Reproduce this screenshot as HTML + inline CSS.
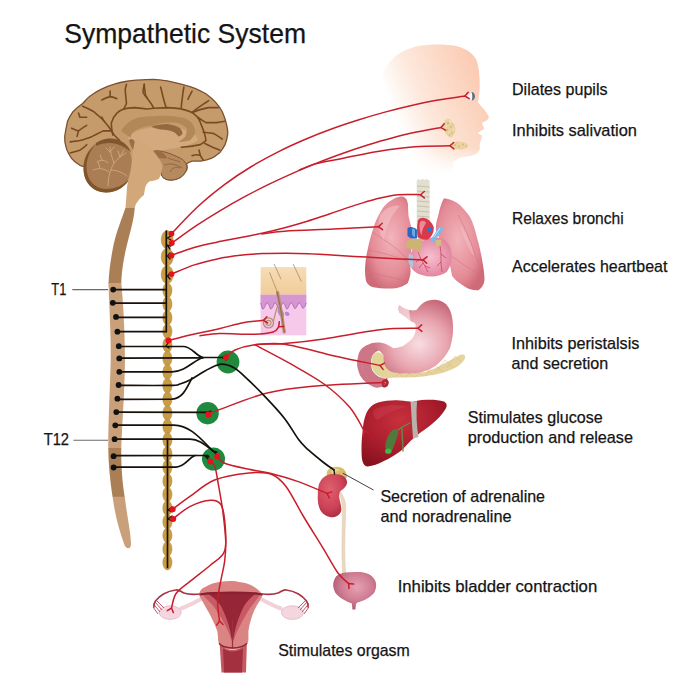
<!DOCTYPE html>
<html><head><meta charset="utf-8">
<style>
html,body{margin:0;padding:0;background:#fff;width:692px;height:692px;overflow:hidden}
svg{display:block}
text{font-family:"Liberation Sans",sans-serif;fill:#141414;stroke:#141414;stroke-width:0.25}
</style></head><body>
<svg width="692" height="692" viewBox="0 0 692 692">
<defs>
<linearGradient id="face" x1="385" y1="120" x2="482" y2="80" gradientUnits="userSpaceOnUse">
<stop offset="0" stop-color="#fff"/><stop offset="0.1" stop-color="#fff"/><stop offset="0.4" stop-color="#fde8dc"/><stop offset="1" stop-color="#fbcbb2"/>
</linearGradient>
<linearGradient id="faceFade" x1="0" y1="148" x2="0" y2="174" gradientUnits="userSpaceOnUse">
<stop offset="0" stop-color="#fff" stop-opacity="1"/><stop offset="1" stop-color="#fff" stop-opacity="0"/>
</linearGradient>
<mask id="faceMask"><rect x="370" y="30" width="130" height="150" fill="url(#faceFade)"/></mask>
<radialGradient id="lungL" cx="0.55" cy="0.45" r="0.6">
<stop offset="0" stop-color="#f2b4bb"/><stop offset="0.7" stop-color="#e48c97"/><stop offset="1" stop-color="#cf6a78"/>
</radialGradient>
<radialGradient id="lungR" cx="0.45" cy="0.45" r="0.6">
<stop offset="0" stop-color="#f2b4bb"/><stop offset="0.7" stop-color="#e48c97"/><stop offset="1" stop-color="#cf6a78"/>
</radialGradient>
<radialGradient id="heart" cx="0.5" cy="0.5" r="0.6">
<stop offset="0" stop-color="#f6c0d0"/><stop offset="1" stop-color="#e07c98"/>
</radialGradient>
<radialGradient id="stom" cx="0.58" cy="0.6" r="0.62">
<stop offset="0" stop-color="#f8dde2"/><stop offset="0.55" stop-color="#e8a6b0"/><stop offset="1" stop-color="#c86878"/>
</radialGradient>
<radialGradient id="liver" cx="0.45" cy="0.3" r="0.75">
<stop offset="0" stop-color="#c8303e"/><stop offset="0.6" stop-color="#a81c2c"/><stop offset="1" stop-color="#86121e"/>
</radialGradient>
<radialGradient id="kid" cx="0.4" cy="0.35" r="0.65">
<stop offset="0" stop-color="#de6270"/><stop offset="0.7" stop-color="#cc4256"/><stop offset="1" stop-color="#b02e44"/>
</radialGradient>
<radialGradient id="blad" cx="0.55" cy="0.4" r="0.6">
<stop offset="0" stop-color="#e4a2b2"/><stop offset="0.6" stop-color="#cf7c92"/><stop offset="1" stop-color="#b05a72"/>
</radialGradient>
<radialGradient id="cbl" cx="0.55" cy="0.4" r="0.6">
<stop offset="0" stop-color="#b88a60"/><stop offset="0.75" stop-color="#a87a50"/><stop offset="1" stop-color="#80562e"/>
</radialGradient>
<linearGradient id="skinTop" x1="0" y1="267" x2="0" y2="295" gradientUnits="userSpaceOnUse">
<stop offset="0" stop-color="#f6dcb8"/><stop offset="1" stop-color="#f0cc98"/>
</linearGradient>
<linearGradient id="skinBot" x1="0" y1="295" x2="0" y2="336" gradientUnits="userSpaceOnUse">
<stop offset="0" stop-color="#dca0d8"/><stop offset="0.3" stop-color="#f2c2e6"/><stop offset="1" stop-color="#f6cceb"/>
</linearGradient>
</defs>
<!-- FACE -->
<g mask="url(#faceMask)">
<path d="M383,75 C386,62 398,51 416,46.5 C430,43.8 446,44 456,46 C466,48.5 472,52.5 476,59 C479,66 480,78 479.7,88 C479.5,92 479.3,94 479.2,95 C478.8,98 478.3,100 478,102 C480,105 482.5,107.5 484.4,110 C486.5,112.5 488,115 489,117 C488.5,118.5 487.5,119.8 486.7,120.5 C485,121.5 483.5,122.2 482,122.8 C482.3,124 482.8,125.2 483.2,126.3 C483.8,127.2 484.2,128 484.4,128.6 C483.5,129.5 482,130.3 480.9,130.9 C479.5,131.8 478.2,132.6 477.4,133.2 C479,134 480.8,134.8 482,135.5 C481.8,137 481.3,138.7 480.9,140.2 C480.3,141.8 479.9,143.3 479.7,144.8 C479.8,146.4 479.8,148 479.7,149.4 C478.8,151 477.6,152.6 476.3,154 C474,155.2 471.5,155.9 469.3,156.3 C462,157 456,159 453,162 L452.5,182 L383,182 Z" fill="url(#face)"/>
</g>
<!-- eye -->
<path d="M466.5,96.5 L471.8,92 L472.5,100.5 Z" fill="#f4f6f8"/>
<path d="M471.5,92 C473.5,91.5 475,94 475,96.3 C475,98.8 473.5,100.8 471.8,100.4 C472.6,97.6 472.6,94.8 471.5,92 Z" fill="#5a7088"/>
<!-- parotid -->
<path d="M447.5,118.5 C450,118 451,121 453,123 C455,125 456,128 455.4,131 C455,134 453,137 450.5,137.8 C448,137 446,134 444.5,132 C443,129.5 442.7,126 443.5,123.5 C444.5,121 446,119 447.5,118.5 Z" fill="#ead3a0"/>
<g fill="#d2b476" opacity="0.8">
<circle cx="448" cy="123" r="1.2"/><circle cx="451" cy="127" r="1.1"/><circle cx="447" cy="130" r="1.2"/><circle cx="452" cy="133" r="1"/><circle cx="449.5" cy="135" r="0.9"/><circle cx="453" cy="124.5" r="0.8"/>
</g>
<g fill="#f6ead0" opacity="0.9">
<circle cx="450" cy="121.5" r="0.9"/><circle cx="446" cy="126.5" r="0.8"/><circle cx="453.5" cy="129.5" r="0.8"/><circle cx="449" cy="132.5" r="0.7"/>
</g>
<!-- submandibular -->
<path d="M452.5,143 C455,141.5 458,141.3 461,141.8 C464,142 467,143 468.2,145 C468,147.5 465,149 462,149.4 C458.5,149.6 455,149.2 452.5,148 C451.5,146.5 451.5,144.5 452.5,143 Z" fill="#ead3a0"/>
<g fill="#d2b476" opacity="0.8">
<circle cx="455" cy="145" r="1"/><circle cx="459" cy="146.5" r="1"/><circle cx="463" cy="144.5" r="1"/><circle cx="466" cy="146" r="0.8"/><circle cx="457" cy="143" r="0.7"/>
</g>
<!-- TRACHEA -->
<path d="M416.7,180.5 L418.5,179 L420.5,180.3 L422.5,178.8 L424.5,180.3 L426.5,178.8 L428.5,180.3 L429.6,180.5 L429.6,228 L416.7,228 Z" fill="#e2dfd0"/>
<g stroke="#c4bea8" stroke-width="0.9">
<line x1="417" y1="186" x2="429.6" y2="187"/><line x1="417" y1="191" x2="429.6" y2="192"/><line x1="417" y1="196" x2="429.6" y2="197"/><line x1="417" y1="201" x2="429.6" y2="202"/><line x1="417" y1="206" x2="429.6" y2="207"/><line x1="417" y1="211" x2="429.6" y2="212"/><line x1="417" y1="216" x2="429.6" y2="217"/><line x1="417" y1="221" x2="429.6" y2="222"/>
</g>
<!-- LUNGS -->
<path d="M401.5,196.3 C397,197 394,198.5 391.4,200.3 C387,203 384,206 381.3,210.5 C378,216 375,222 373.2,228.7 C371,235 369.5,241 368.2,246.9 C366.5,254 365.5,260 365.1,267.1 C364.8,272 365.2,277 366.1,281.3 C368,285 370,286.5 373.2,287.3 C380,288.5 388,288.8 395.5,288.3 C400,287.5 404,286 407.6,283.3 C409.5,279 410.5,275 410.6,271.2 C410.5,267 410,264 409.6,261 C410.5,254 412,247 412.7,240.8 C412.5,236 412,232 411.6,228.7 C410.5,224 409.5,220 408.6,216.5 C408.2,212 408,208 408,204.4 C407.5,201 406.5,199 405.6,198.3 C404,197 403,196.5 401.5,196.3 Z" fill="url(#lungL)"/>
<path d="M444,198.2 C451,199 456,201.5 460.2,205.2 C464,209 467.5,213 470.3,217.4 C473,223 475,229 476.4,235.6 C479,244 481,253 482.5,261.9 C483.5,268 484.5,274 484.5,280.1 C484,285 481.5,288.5 478.4,290.2 C473,290.5 468,289 464.2,286.2 C459,283 455,280 452.1,276 L448,255 C444,247 440,240 436,231 C435.5,226 436.5,221 438,216.5 C439.5,210 441,203 444,198.2 Z" fill="url(#lungR)"/>
<g fill="none" stroke="#d07280" stroke-width="0.8" opacity="0.7">
<path d="M368,250 C380,252 395,256 409,262"/>
<path d="M372,232 C385,240 400,250 410,262"/>
<path d="M366,272 C378,274 395,278 408,282"/>
<path d="M458,215 C466,228 472,246 478,262"/>
<path d="M450,255 C460,262 470,270 482,275"/>
</g>
<path d="M380,215 C386,208 394,204 400,206 C392,214 386,226 384,240 C380,236 377,224 380,215 Z" fill="#f6c8ce" opacity="0.5"/>
<path d="M460,225 C466,232 472,244 474,256 C470,252 464,240 460,225 Z" fill="#f6c8ce" opacity="0.45"/>
<!-- HEART -->
<path d="M407.5,228 C410,226 414,227 416.9,229.5 L417,238.5 C413,239 409,238 407.5,236 Z" fill="#2a68c0"/>
<path d="M412,229 C413,228 414.5,228.5 415,230 L415,237 C413.5,237 412.5,236 412,234 Z" fill="#7ab8e8" opacity="0.8"/>
<path d="M408.8,262 C409.5,255 412,249 416,245 C420,241.5 425,239 430,238 C434.5,237.3 438.5,237.5 442,238.5 C446,240.5 449,244 450.5,248 C451.5,252 451.8,256 451.5,259 C451,264 449.5,268 447,271.5 C443,275 437,276.5 431,276.5 C425,276.3 420,275 416,272.5 C412.5,270 409.8,266.5 408.8,262 Z" fill="url(#heart)"/>
<path d="M417.8,221 C418.5,218.5 421,217.5 423.5,217.8 C428,218.5 432,222 433.8,227.5 C434,232 432,236.5 428,239.4 C424,240.5 420,239.5 417.5,237 C416.8,232 416.9,226 417.8,221 Z" fill="#d83a4c"/>
<path d="M420,222 C422,220 425,220.5 426,223 C424,226 422,230 421.5,235 C419.5,232 419,226 420,222 Z" fill="#f0a0a8" opacity="0.8"/>
<path d="M426.5,229 C428,227 430.5,226.5 432.5,228 L431.5,232 C429.5,232.5 427.5,231.5 426.5,229 Z" fill="#2a78d0"/>
<path d="M441.3,226.5 C443,227 443.5,229 442.5,230.5 L433.5,242 C432,242.5 430.5,241.5 430.5,240 L438.5,228 C439.3,227 440.3,226.5 441.3,226.5 Z" fill="#78bdea"/>
<path d="M440,228 L434,237" stroke="#c4e2f6" stroke-width="1" />
<path d="M406.6,241 C410,239 416,238.3 422.5,239 L421,250.7 C416,250.5 411,249.5 407,248 C406,245.5 406,243 406.6,241 Z" fill="#cdb474"/>
<path d="M435.7,240 L441.3,239.4 L441,246 L436,246.5 Z" fill="#d4bc82"/>
<path d="M408.5,254.4 C410,254 412,254.5 413.1,255.5 L413.1,267.6 C411,267 409,265 408.5,262 Z" fill="#a8c8e0"/>
<g fill="none" stroke="#c02a3c" stroke-width="0.6">
<path d="M418,252 C420,258 424,264 428,272"/>
<path d="M421,258 L416,262 M423,263 L419,268 M425,266 L430,268"/>
<path d="M440,246 C442,254 440,262 442,272"/>
<path d="M441,254 L446,258 M441,262 L437,266"/>
</g>
<!-- SKIN -->
<rect x="260.6" y="267.1" width="45.7" height="27.8" fill="url(#skinTop)"/>
<rect x="260.6" y="294.7" width="45.7" height="40.6" fill="#f6c8ea"/>
<path d="M260.6,294.7 L306.3,294.7 L306.3,303 C305,306 304,309 302.5,308 C301,305 300,302 298.5,303 C297,306 296,309 294.5,308.5 C293,305 292,302 290.5,303 C289,306 288,309.5 286.5,309 C285,305 284,302 282.5,303 C281,306 280,309.5 278.5,309 C277,305 276,302 274.5,303 C273,306 272,309.5 270.5,309 C269,305 268,302 266.5,303 C265,306 264,309.5 262.5,309 C261.5,306 261,304 260.6,303 Z" fill="#d696d4"/>
<path d="M260.6,303 C261,304 261.5,306 262.5,309 C264,309.5 265,306 266.5,303 C268,302 269,305 270.5,309 C272,309.5 273,306 274.5,303 C276,302 277,305 278.5,309 C280,309.5 281,306 282.5,303 C284,302 285,305 286.5,309 C288,309.5 289,306 290.5,303 C292,302 293,305 294.5,308.5 C296,309 297,306 298.5,303 C300,302 301,305 302.5,308 C304,309 305,306 306.3,303" fill="none" stroke="#a868b0" stroke-width="0.9"/>
<path d="M277.6,309.4 C280,308 283,310 284,313 C285,316 283,318 281,317 C279,315 277,312 277.6,309.4 Z" fill="#b488d8"/>
<path d="M285,312 C288,311 290,313 289.5,315 C288,317 286,316 285,314 Z" fill="#b488d8"/>
<g fill="none" stroke="#a87c58" stroke-linecap="round">
<path d="M269.7,272.7 C272,279 275,286 277.6,292.5" stroke-width="0.7"/>
<path d="M274.2,264.3 L280.9,278.9" stroke-width="0.7"/>
<path d="M293.3,264.3 L301.2,281.2" stroke-width="0.7"/>
<path d="M277.6,292.5 C279,300 281,310 282.5,320 C283,325 284,330 284.3,332" stroke-width="3.2" stroke="#b89070"/>
<path d="M277,292 C279,300 281,310 282.5,320 C283,325 284,330 284.3,332" stroke-width="0.8" stroke="#8a6040"/>
<path d="M268.5,322.9 m-5,0 a5,5 0 1,0 10,0 a5,5 0 1,0 -10,0" stroke-width="1.4" stroke="#b89070"/>
<path d="M268.5,322.9 m-2.5,0 a2.5,2.5 0 1,0 5,0 a2.5,2.5 0 1,0 -5,0" stroke-width="1.1" stroke="#b89070"/>
<path d="M273.5,321 C275,315 276,310 277.6,306" stroke-width="1.2" stroke="#b89070"/>
</g>
<!-- STOMACH -->
<path d="M372,343 C368,344.5 364.5,346 362.1,348.2 C359.5,351 358.5,353.5 358.1,356.3 C357.3,359.5 357,362.5 357.1,365.4 C357.8,369 358.8,372.5 360.1,375.5 C362,378.5 364.5,381.5 367.2,383.6 C370,385.5 373,387 376.3,387.7 C378.5,387.8 381,387.5 383.4,386.6 C385,385.5 386.5,384 387.4,382.6 L385.4,378.6 C383,378 380.5,377.5 378.3,376.5 C376,375 374,373 372.3,370.5 C371.2,367 370.8,363.5 371.2,360.3 C371.5,358 372.3,356 373.3,354.3 C375,352 378,350.5 381,350 Z" fill="#cd7688"/>
<path d="M361,356 C361,366 364,376 372,382 C366,378 362,370 361,356 Z" fill="#e8a8b8" opacity="0.6"/>
<!-- PANCREAS -->
<path d="M373.3,354.3 C376,351.5 380,351 383.4,355.3 C384,360 385.5,366 390.5,371.5 C400,374 412,374 425,372 C438,368 450,360 458,356 C463,353.5 466,354.5 465,358 C463,364 455,369 444,372.5 C430,376.5 415,378 400,377.5 C393,377.5 389,378 385.4,378.6 C381,377.5 376,375 373.5,371.5 C371,366 371,359 373.3,354.3 Z" fill="#e6d29c"/>
<path d="M374,356 C377,354 381,355 382,359 C383,365 384,370 386,376 C381,376 376,373 374,369 C372,365 372.5,359 374,356 Z" fill="#dcd696" opacity="0.8"/>
<g fill="none" stroke="#cdb57a" stroke-width="0.5" opacity="0.85">
<path d="M395,370 L403,377 M405,370 L413,377 M415,369 L423,376 M425,368 L433,375 M435,365 L443,372 M445,360 L453,368 M455,356 L461,362"/>
<path d="M395,377 L403,370 M405,377 L413,370 M415,377 L423,368 M425,376 L433,365 M435,373 L445,360 M447,368 L455,356"/>
</g>
<path d="M399.5,305.3 C403,308 406,310 408.9,310 C412,310.5 414,310.5 416.4,310 C419,307 421,304 423.9,302.5 C427,300.5 431,299.5 435.2,299.7 C440,300 443.5,302 446.4,304.4 C450,308.5 451.5,313 452.1,317.5 C453,322 453.2,327 453,332.6 C452.5,338 451.5,343 450.2,347.6 C448,352 446,355.5 442.7,358.9 C439.5,362.5 435.5,366 431.4,368.3 C427.5,370.3 424,371.8 420,372.5 C417,373.2 414,373.5 410.7,373.5 C407,373.6 404,373.6 400.6,373.5 C397,373 393.5,372.5 390.5,371.5 C387.5,369.5 385.5,367 384.4,364.4 C383.6,361 383.4,358 383.4,355.3 C381.5,352 378,349.5 374,347 C372.5,345.5 372,344.5 372,343 C375,342.5 378,342.3 380.3,342.6 C383,343.3 386,344 388.4,345.2 C390,346.2 391.8,347.3 393.5,348.2 C396.5,348 399.5,347.3 402.6,346.2 C406.5,344 410,341 412.7,338.1 C414.5,335.5 415.5,332.5 415.7,330 C415.8,327 415.5,325 415.4,324 C414,322.5 412.5,322 410.8,321.3 C407,318 403,315 399.5,312.8 C398,310.5 398,307 399.5,305.3 Z" fill="url(#stom)"/>
<path d="M399.5,305.3 C403,308 406,310 408.9,310 L410.8,321.3 C407,318 403,315 399.5,312.8 C398,310.5 398,307 399.5,305.3 Z" fill="#f6e4e6" opacity="0.7"/>
<path d="M383,380 C385.5,378.5 388.5,379.5 388.8,382.5 C388.8,385.5 386,387.8 383.5,387.5 C381.5,386.5 381,382 383,380 Z" fill="#a02c3c"/>
<path d="M384.5,381.5 C386,381.5 386.5,383 386,384.5 C385,385.5 383.5,385 383.5,383.5 Z" fill="#e07c8c"/>
<!-- LIVER -->
<path d="M366,414 C369,407 373,404 378,402.5 C386,400.5 394,400 400,400.6 C405,401 409,401.5 412.5,402 C416,401 420,400 426,399.8 C433,399.5 439,400 444,401.5 C447,403 447.5,406 445.5,409 C442,415 437,420 432,424 C427,428 424,430 421.5,431.8 C417,435.5 414,438 411,440.5 C407,445 404,448 400.7,450.9 C395,455 389,458.5 383.4,461.3 C378,464 373,466 367.7,466.5 C364,466.5 362,462 361.7,456 C361.3,448 361.5,440 362.5,432 C363,425 364,419 366,414 Z" fill="url(#liver)"/>
<path d="M374,410 C384,404 400,404 408,407 C400,408 386,412 378,420 C374,418 372,414 374,410 Z" fill="#d04858" opacity="0.35"/>
<path d="M410.5,401.8 L417,401.2 C416,414 416.5,426 418.5,437 L413,438.5 C412,426 411.5,414 410.5,401.8 Z" fill="#b8b2ac"/>
<g fill="none" stroke="#6c8a48" stroke-width="1.3" stroke-linecap="round">
<path d="M395,432 C400,428 405,425 410,423"/>
<path d="M402,428 C402,436 403,444 403,451"/>
</g>
<path d="M386.5,452 C384,446 386,438 390,433 C393,429 396,428 398,430 C399,434 396,440 394,446 C392.5,451 390,454 386.5,452 Z" fill="#4e7a3c"/>
<ellipse cx="388.3" cy="451.2" rx="3.2" ry="2.6" fill="#3cb843"/>
<!-- KIDNEY + ADRENAL -->
<path d="M327.5,470.5 C331,466.5 337,465.8 342,468 C345.5,470 347,474 346.7,477.9 L327,478 C326.5,475.5 326.5,472.5 327.5,470.5 Z" fill="#d9bc6c"/>
<path d="M331,469.5 C334,468 338,468.3 340,470.5 C337,471 334,472 332,474 Z" fill="#f0dca0" opacity="0.8"/>
<path d="M340,491 C343,496 345.5,500 345.7,506 C345.5,520 344.5,540 344.8,556 C345,564 345.5,569 345.5,574 L342.5,574 C342.5,566 342,560 342,552 C342,536 342.5,518 342.2,506 C341.8,500 340.5,496 338,492 Z" fill="#ead8c0" stroke="#d8c4a8" stroke-width="0.5"/>
<path d="M318.5,486 C320,480 324,476 329,474.5 C334,473.5 340,474 344,476.5 C346.5,478.5 347.3,481 347,483.5 C346,486.5 343.5,489 340.5,491 C339,493 338.8,496 339.5,499 C340.5,503 341.5,507 341.3,510.5 C340.5,514 337.5,516.8 333,517.3 C328,517.5 323.5,515 320.5,510.5 C318,506 317.5,500 317.8,495 C317.8,492 318,489 318.5,486 Z" fill="url(#kid)"/>
<line x1="342.9" y1="473.2" x2="373.5" y2="490" stroke="#2a2a2a" stroke-width="0.9"/>
<!-- BLADDER -->
<path d="M345.3,572.6 C350,572 355,571.8 360.5,572.1 C364.5,572.8 368,573.8 370.6,575.2 C374,577.5 376,581 376.1,584.3 C376.2,588 375.5,591 373.6,593.4 C371,596 368.5,598 365.5,599.4 C362.5,600.8 360,601.8 357.4,602.5 C356.5,603.2 356,603.8 355.9,604.5 L355.4,609.6 L352.4,609.6 L351.9,603.5 C349,602.2 346,601 343.3,599.4 C340,597.5 337,595 335.2,592.4 C333.8,589.5 333,587 333.2,584.3 C333.5,581 334.5,578.5 336.2,576.2 C339,574.2 342,573 345.3,572.6 Z" fill="url(#blad)"/>
<!-- UTERUS -->
<g fill="none" stroke="#f2d2d8" stroke-width="4" stroke-linecap="round">
<path d="M201,599 C194,603 188,606 181,608.5"/>
<path d="M261,599 C268,603 274,606 281,608.5"/>
</g>
<ellipse cx="170.2" cy="612.6" rx="11" ry="6.8" fill="#f3d6de" stroke="#e6b4c2" stroke-width="0.8"/>
<ellipse cx="292.4" cy="612.6" rx="11" ry="6.8" fill="#f3d6de" stroke="#e6b4c2" stroke-width="0.8"/>
<g fill="none" stroke="#a63444" stroke-width="1.7" stroke-linecap="round">
<path d="M200,594 C194,594.5 188,594.5 184,593 C180,591 178,589 175.7,590 C171,590.5 167,592 163.5,594 C160,596 157.5,598.5 155.5,601 C154,603 153.7,605 154,607"/>
<path d="M262,594 C268,594.5 274,594.5 278,593 C282,591 284,589 286.3,590 C291,590.5 295,592 298.5,594 C302,596 304.5,598.5 306.5,601 C308,603 308.3,605 308,607"/>
</g>
<g fill="none" stroke="#b8485a" stroke-width="0.9">
<path d="M153.5,604 L160,612 M155,602 L162,610 M157,601 L164,608 M153,607 L158,614"/>
<path d="M308.5,604 L302,612 M307,602 L300,610 M305,601 L298,608 M309,607 L304,614"/>
</g>
<path d="M199.1,594.7 C200,590 202,588.5 205.2,587.1 C210,584 215,582.5 220.4,581.8 C224,581.3 228,581 232.5,581.1 C237,581.5 241,582.3 246.2,583.3 C250,584.5 254,586.5 256.8,588.7 C259,590.5 261,592.5 262.9,594.7 C261.5,597 260.5,599 259.8,600.8 C257.5,604 255.5,608 253.8,611.4 C252.5,614.5 251.5,617.5 250.7,620.5 C249.5,624 249,627.5 248.4,631.2 C248.4,634 248.4,637 248.4,640.3 L247.7,643.3 C244,647 238,649.5 232.5,649.4 C227,649.5 222,647 218.8,643.3 L218.1,640.3 C218.1,637 217.8,634 217.3,631.2 C216,627.5 214.5,624 212.8,620.5 C211.5,617.5 210,614.5 208.2,611.4 C206,608 204,604 202.1,600.8 C201,599 200,597 199.1,594.7 Z" fill="#da8584"/>
<path d="M201,593.5 L261,593.5 C258,598 254,603 250,608 C245,616 240,625 236,634 C234.5,638 233.5,641 232.5,643 C231.5,640 230,636 228.5,632 C225,624 220,615 214,607 C210,602 205,597.5 201,593.5 Z" fill="#c85a66"/>
<path d="M206,592.5 L257.5,592.5 C252,596 247,601 243.5,607 C240,614 237,622 235,630 C234,635 233.2,639 232.5,642 C231.8,639 231,635 230,630 C228,622 225,614 221.5,607 C218,601 212,596 206,592.5 Z" fill="#962636"/>
<path d="M199.5,594.5 C215,592 248,592 262.5,594.5" fill="none" stroke="#8a2030" stroke-width="2.2"/>
<path d="M232.5,620 L232.5,648" stroke="#9a3040" stroke-width="1.2"/>
<path d="M219.6,643.3 C224,648 228,650 232.5,650 C237,650 242,648 246.9,643.3 L246,672.5 L221.5,672.5 Z" fill="#c45a64"/>
<path d="M223,648.5 C226,650.5 229,651.5 232.5,651.5 C236,651.5 239.5,650.5 243,648.5 L242,672.5 L224,672.5 Z" fill="#a2303e"/>
<path d="M219,643.3 C224,649.5 241,649.5 247,643.3" fill="none" stroke="#8e2636" stroke-width="1.4"/>
<!-- BRAIN -->
<g id="brain">
<path d="M86.7,166.6 C83,166.5 81.5,166 79.9,165.3 C76,163 73.5,161 71.6,158.4 C69,154.5 67,151 66.1,147.4 C65,143.5 64.5,140 64.7,136.4 C65.5,131 66.5,126 67.5,121.3 C69,118 71,114.5 73,111.7 C76,108.5 79,106 82.6,103.5 C85,101 87,98.5 89.5,96.6 C93,94 96.5,91.5 100.5,89.7 C105,87.5 109.5,85.5 114.2,84.2 C118,83 121.5,82 125.2,81.5 C129,80.8 132.5,80.3 136.2,80.1 C141,79.8 148,79.4 153.7,79.4 C158,79.8 163,80.2 167.4,80.8 C172,81.8 177,83 181.2,84.2 C186,85.5 190.5,86.8 194.9,88.3 C199,90 202.5,91.8 205.9,93.8 C209.5,96.5 212.5,99 215.5,102.1 C218,105 220.5,108.5 222.3,111.7 C224,115.5 225.5,120 226.4,124 C227.3,127.5 227.8,130.5 227.8,133.6 C227.3,137.5 226.5,141 225.1,144.6 C223.5,147.5 221.5,150.5 219.6,152.8 C217,155 214.5,157 211.3,158.3 C207.5,159.8 204,160.7 200.4,161.1 L192.1,161.1 C190,161.8 188,162.5 186.6,163.8 C187.5,167 187.2,170 186,171 C183,177 177,180 171,180 C165,180 161,177 161,172 L155,158 C150,160 145,165 140,170 L132,172 C120,169 100,167 86.7,166.6 Z" fill="#c69b6b" stroke="#7d5130" stroke-width="1.3" stroke-linejoin="round"/>
<!-- light centre -->
<path d="M128,138 C134,130 150,126 166,127 C184,128 196,132 198,140 C194,143.5 186,146 181.2,147.3 C170,149 162,150 155,152 C148,152 140,150 132,146 Z" fill="#d3aa7e"/>
<!-- corpus callosum band -->
<path d="M121,131 C126,122 134,118.5 140,117.2 C150,116 160,115.8 167.4,115.8 C175,116.2 181,117 185.3,118.5 C189.5,120.5 192.5,123 193.5,125.4 C195,128.5 195.2,131 194.9,133.6 C193.5,137 191.5,139 189.4,140.5 C186,141.5 182,142 178.4,141.9 C181,140 184,138.5 185.3,136.4 C186.6,133.5 187,131 186.6,128.1 C184,125.5 180,123.5 174.3,122.6 C166,122 158,123 153.7,125.4 C146,126 138,128 133,132 C131,134.5 130.5,136.5 131,138 Z" fill="#b28859"/>
<path d="M151,126.8 C156,124.8 162,124 167.4,124 C172.5,124.8 176.5,126 179.8,128.1 C181.5,130 182.5,132 182.5,133.6 C181.5,135.5 180,136.5 178.4,136.4 C177,134.5 175.5,133 174.3,132.2 C170,130.5 165.5,129.8 160.6,129.5 C157,128.8 153.5,128 151,126.8 Z" fill="#946840"/>
<!-- hanging temporal lobe -->
<path d="M155,151 C160,150 170,153 180,158 C186,161 188,166 186,171 C183,177 177,180 171,180 C165,180 161,177 161,172 C161,165 158,158 155,151 Z" fill="#b68a5f" stroke="#7d5130" stroke-width="0.9"/>
<path d="M152.3,151 C158,149.5 164,152 167.4,158.3 C162,159 156,158 153.7,156 Z" fill="#9c6c44"/>
<g fill="none" stroke="#8a5e38" stroke-width="0.8">
<path d="M164,165 C170,163 176,164 182,168"/>
<path d="M170,172 C172,168 176,166 180,168"/>
<path d="M168,158 C172,160 176,160 180,162"/>
</g>
<!-- sulci -->
<g fill="none" stroke="#7a4a22" stroke-width="1.6" stroke-linecap="round" stroke-linejoin="round">
<path d="M82.6,106.2 C87,108 90.5,109.5 93.6,111.7 C97,114.5 100.5,117 103.2,120 C105,122.5 107,124.5 108.7,126.8 C110.5,129.5 112.5,132.5 114.2,135 C116,137 118,139 119.7,140.5"/>
<path d="M101.8,117.2 L103.5,120.5"/>
<path d="M112.8,135 C112,131 111.2,126 111.4,122.7 C112.5,119 114.5,115.5 116.9,113.1 C119,111 121.5,109.8 123.8,109 C127,108 131,107.7 134.8,107.6 C139,108 143,108.4 147,109 L153.7,108.2 L167.4,107.6 C172,107.8 177,108.2 181.2,108.9 C185,109.8 189,111 192.1,112.4 C194,114 196,115.5 197.6,117.2 C198.8,119 199.8,120.8 200.4,122.6 C201.8,126 203.3,130 204.5,133.6 C205.2,136 205.8,138.5 205.9,140.5 C204,142 202.3,143.5 200.4,144.6 C194,146 187,147 181.2,147.3"/>
<path d="M123.8,109 C124.8,107 125.8,105 126.5,103.5 C126,99 125.5,94 125.2,89.7 C125.5,87.5 126,85.8 126.5,84.2"/>
<path d="M101.8,100 C104.5,98.5 107.5,97.2 110.1,96.6 C112.5,97 115,97.8 116.9,98.7"/>
<path d="M110.1,96.6 L110.1,91.1"/>
<path d="M144.4,84.2 C143.5,87 143,90 143,92.5 C144,94.5 145.5,96.5 147,98"/>
<path d="M78.5,113.1 C79,114.5 79.5,116 79.9,117.2 L86.7,117.2"/>
<path d="M71.6,128.2 C74,129.2 76.5,130.3 78.5,130.9 C81,129 84,127 86.7,125.4"/>
<path d="M78.5,130.9 L77.1,136.4"/>
<path d="M70.2,141.9 C73,141.5 76.5,141 79.9,140.5 C84,139.5 88,138 92.2,136.4 C96,134.5 100,132.5 103.2,130.9 L111.4,130.9"/>
<path d="M70.2,152.9 C73.5,152 77,151 79.9,150.2 C82.5,148.5 85,146.5 86.7,144.7"/>
<path d="M144.1,84.2 C144.5,88 145,92 145.5,95.2 C147,98 149,101 151,103.4 C152,105 153,106.5 153.7,108.2"/>
<path d="M160.6,87 C161.5,90.5 162.5,94.5 163.3,98 C164.2,101.5 165.2,104.5 166.1,107.6"/>
<path d="M183.9,87 C183.3,90 182.8,93.5 182.5,96.6 C182,100 181.5,104 181.2,107.6"/>
<path d="M192.1,91.1 C190.5,94 189,96.8 188,99.3"/>
<path d="M208.6,100.7 C205.5,102.5 203,104.5 200.4,106.2 C197,108.5 194.5,110.5 192.1,112.4"/>
<path d="M192.1,112.4 C197,110.5 203,108.5 208.6,107.6 L218.2,107.6"/>
<path d="M197.6,117.2 C200,119 203,121 205.9,122.6 C209.5,122.6 213,122.6 216.8,122.6 C219.5,122.2 222.5,121.7 225.1,121.3"/>
<path d="M203.1,132.2 C206.5,132.6 210.5,133 214.1,133.6 C217,135.5 220,137.3 222.3,139.1"/>
<path d="M204.5,143.2 C207,144.5 210,146 212.7,147.3 C215,148.3 217.5,149.2 219.6,150.1"/>
<path d="M199,150.1 C199.5,152 200,154 200.4,155.6 C201.2,157 202.2,158.5 203.1,159.7"/>
<path d="M192.1,155.6 C194.5,155 197.5,154 200.4,155.6"/>
</g>
<!-- cerebellum -->
<path d="M83.5,168 C83.5,152 95,139 110,138.5 C124,138.5 132,150 132,165 C132,181 121,192.5 106,192.5 C92,192 83.5,182 83.5,168 Z" fill="#aa7d54"/>
<path d="M83.5,168 C83.5,182 92,192 106,192.5 C118,192.5 126,186 130,178 C124,185 116,189 106,189 C94,188.5 87,180 86.5,168 C86.5,158 90,150 96,145 C88,150 83.5,158 83.5,168 Z" fill="#80552c"/>
<path d="M96,143 C102,139.5 106,138.5 110,138.5 C120,138.5 128,144 131,152 C124,146 116,143 110,143 C104,143 100,144 96,146 Z" fill="#6e4622" opacity="0.7"/>
<g fill="none" stroke="#d2a87c" stroke-width="0.9" stroke-linecap="round">
<path d="M108,186 C108,178 110,170 114,163"/>
<path d="M114,163 C118,158 122,155 126,153"/>
<path d="M114,163 C112,157 110,152 110,147"/>
<path d="M110,152 L106,148"/><path d="M110,152 L114,147"/>
<path d="M120,157 L118,151"/><path d="M120,157 L124,150"/>
<path d="M109,172 C104,168 98,168 93,170"/>
<path d="M100,168 L98,162"/>
<path d="M111,170 C116,170 122,172 127,176"/>
<path d="M97,162 C101,159 105,160 108,163"/>
<path d="M102,160 L100,155"/>
</g>
<!-- brainstem light -->
<path d="M134.7,140 C140,140 150,146 153.2,151 C157,156 161,160 162.4,166 C162.4,170 161,175 158.9,178.9 C155,180.5 151,181 149.7,181.2 C147,183 145.5,186 145.1,188.2 C144.5,192 144,194 143.9,195.1 C141,197.5 139,199.5 138.1,200.9 C136,203 135,205.5 134.7,208.5 L125.4,208.5 C126,202 126.5,195 127,187 C128,181 129,176 130,173.2 C131,168 132,162 132.3,156 C132.8,150 133.5,145 134.7,140 Z" fill="#d2a87a"/>
<path d="M129,140 C131,138 134,139 134.7,142 L133,150 C131.5,147 129.5,144 129,140 Z" fill="#9c6e46"/>
</g>
<!-- SPINAL CORD -->
<path d="M125.4,208 L134.7,208 C134,222 128,238 124.7,255 C122.5,266 121.5,276 121.3,283.5 L108.5,283.5 C109,270 111,258 113.5,245 C117,230 122,218 125.4,208 Z" fill="#ab7f56"/>
<path d="M108.5,283 L121.3,283 C123,300 125,330 125,360 C124.5,395 122,425 121.3,448.3 L108.3,448.3 C108,425 110,390 110.7,360 C111,330 109,305 108.5,283 Z" fill="#c9a07a"/>
<path d="M108.3,448 L121.3,448 C121,462 122,480 124.7,497 L112.6,497 C110,480 108.4,462 108.3,448 Z" fill="#ab7f56"/>
<path d="M112.6,496.8 L124.7,496.8 C127,515 131,535 131,544 C131,549.5 126.5,549.5 124.5,545 C119,530 115,515 112.6,496.8 Z" fill="#c9a07a"/>
<!-- SYMPATHETIC CHAIN -->
<g fill="#c89c44" stroke="#b08a3a" stroke-width="0.5">
<ellipse cx="167.2" cy="239.7" rx="6.0" ry="9.1"/><ellipse cx="167.2" cy="257.0" rx="6.0" ry="8.7"/><ellipse cx="167.2" cy="274.6" rx="6.0" ry="9.1"/><ellipse cx="167.4" cy="290.5" rx="4.6" ry="7.4"/><ellipse cx="167.4" cy="304.1" rx="4.6" ry="7.4"/><ellipse cx="167.4" cy="317.7" rx="4.6" ry="7.4"/><ellipse cx="167.4" cy="331.3" rx="4.6" ry="7.4"/><ellipse cx="167.4" cy="344.9" rx="4.6" ry="7.4"/><ellipse cx="167.4" cy="358.5" rx="4.6" ry="7.4"/><ellipse cx="167.4" cy="372.1" rx="4.6" ry="7.4"/><ellipse cx="167.4" cy="385.7" rx="4.6" ry="7.4"/><ellipse cx="167.4" cy="399.3" rx="4.6" ry="7.4"/><ellipse cx="167.4" cy="412.9" rx="4.6" ry="7.4"/><ellipse cx="167.4" cy="426.5" rx="4.6" ry="7.4"/><ellipse cx="167.4" cy="440.1" rx="4.6" ry="7.4"/><ellipse cx="167.4" cy="453.7" rx="4.6" ry="7.4"/><ellipse cx="167.4" cy="467.3" rx="4.6" ry="7.4"/><ellipse cx="167.4" cy="480.9" rx="4.6" ry="7.4"/><ellipse cx="167.4" cy="494.5" rx="4.6" ry="7.4"/><ellipse cx="167.4" cy="508.1" rx="4.6" ry="7.4"/><ellipse cx="167.4" cy="521.7" rx="4.6" ry="7.4"/><ellipse cx="167.4" cy="535.3" rx="4.6" ry="7.4"/><ellipse cx="167.4" cy="548.9" rx="4.6" ry="7.4"/><ellipse cx="167.4" cy="562.5" rx="4.6" ry="7.4"/>
</g>
<!-- GANGLIA -->
<g fill="#1f8a3e">
<circle cx="228" cy="362" r="11.4"/>
<circle cx="207.6" cy="413.2" r="11.2"/>
<circle cx="213.5" cy="459" r="11.5"/>
</g>
<!-- BLACK PREGANGLIONIC -->
<g fill="none" stroke="#17110c" stroke-width="1.7" stroke-linecap="round">
<path d="M166.3,231 L166.3,331.6"/>
<path d="M113.2,289.6 L166.3,289.6"/>
<path d="M112.8,303.2 L166.3,303.2"/>
<path d="M116,317.4 L166.3,317.4"/>
<path d="M117.4,331.6 L166.3,331.6"/>
<path d="M118.8,346.5 L184,346.5 C192,347 196,356 203,357.5 L222,357.5"/>
<path d="M119.3,358.1 L203,357.8"/>
<path d="M119.3,371.8 L172,371.8 C186,371.5 194,360 203,357.5"/>
<path d="M117.4,399.4 L172,399.2 C182,398.5 186,390 192,378"/>
<path d="M116.3,412.2 L206,412.4"/>
<path d="M115.3,425.1 L174,425.1 C190,425.5 200,438 213,451"/>
<path d="M114.7,439.2 L190,439.1 C200,439.5 206,446 213,451"/>
<path d="M113.6,455.7 L208,455.5"/>
<path d="M113.6,467.2 L176,467.1 C186,466 188,458 195,455.5"/>
<path d="M167.5,439.3 L167.5,567.4"/>
</g>
<g fill="none" stroke="#17110c" stroke-width="1.3" stroke-linecap="round">
<path d="M171,236 L167.5,238 L171,240"/>
<path d="M170.5,246 L167,245 L170,249"/>
<path d="M170,253 L167.5,256 L170,259"/>
<path d="M170,273 L167.5,276 L170,279"/>
<path d="M168,343 L166,346 L169,348"/>
<path d="M226,355 L222,357.5 L226,360"/>
<path d="M211,411 L206,412.5 L210,416"/>
<path d="M216,454 L213,451 L217,452"/>
<path d="M208,459 L205,456 L209,457"/>
<path d="M172,507 L168,510 L172,512"/>
<path d="M172,516 L168,519 L172,521"/>
<path d="M331,467.5 L334,470 L334.5,474"/>
</g>
<g fill="#111">
<circle cx="113.2" cy="289.6" r="2.9"/><circle cx="112.8" cy="302.8" r="2.9"/><circle cx="116" cy="316.9" r="2.9"/><circle cx="117.4" cy="331.7" r="2.9"/>
<circle cx="118.8" cy="346.2" r="2.9"/><circle cx="119.3" cy="358.4" r="2.9"/><circle cx="119.3" cy="371.8" r="2.9"/><circle cx="118.6" cy="385" r="2.9"/>
<circle cx="117.4" cy="398.7" r="2.9"/><circle cx="116.3" cy="412.1" r="2.9"/><circle cx="115.3" cy="425.3" r="2.9"/><circle cx="114.6" cy="439.2" r="2.9"/>
<circle cx="113.6" cy="456.2" r="2.9"/><circle cx="113.6" cy="467.5" r="2.9"/>
</g>
<g fill="none" stroke="#c81e2c" stroke-width="1.5" stroke-linecap="round">
<path d="M171.5,233.6 C175.9,229.0 189.3,214.4 198.2,206.2 C207.1,198.0 216.0,190.9 224.8,184.3 C233.7,177.7 242.6,171.9 251.5,166.5 C260.4,161.0 269.3,156.3 278.2,151.8 C287.1,147.3 296.0,143.3 304.9,139.5 C313.8,135.7 322.6,132.2 331.5,129.0 C340.4,125.7 349.3,122.8 358.2,120.0 C367.1,117.1 376.0,114.5 384.9,112.1 C393.8,109.7 402.7,107.5 411.6,105.5 C420.4,103.5 429.3,101.6 438.2,100.1 C447.1,98.5 460.5,96.7 464.9,96.0"/>
<path d="M171.8,243.0 C175.9,240.1 188.1,231.1 196.3,225.6 C204.4,220.2 212.6,215.1 220.7,210.3 C228.9,205.4 237.1,200.8 245.2,196.4 C253.4,192.0 261.5,187.9 269.7,183.9 C277.8,180.0 286.0,176.2 294.2,172.6 C302.3,169.0 310.5,165.6 318.6,162.4 C326.8,159.1 335.0,156.1 343.1,153.2 C351.3,150.3 359.4,147.6 367.6,145.0 C375.7,142.5 383.9,140.1 392.1,138.0 C400.2,135.8 408.4,133.9 416.5,132.1 C424.7,130.4 436.9,128.4 441.0,127.6"/>
<path d="M299.4,170.0 C302.3,168.9 309.9,165.3 316.7,163.5 C323.5,161.7 329.9,160.9 340.0,158.9 C350.1,156.9 365.1,153.4 377.6,151.4 C390.1,149.4 403.0,147.6 415.1,146.7 C427.2,145.8 444.2,146.0 450.0,145.8"/>
<path d="M171.5,255.4 C175.3,254.1 186.6,249.7 194.1,247.5 C201.7,245.3 209.2,243.8 216.8,242.2 C224.3,240.6 231.9,239.3 239.4,237.8 C247.0,236.4 254.5,234.9 262.0,233.3 C269.6,231.6 277.1,229.8 284.7,227.8 C292.2,225.8 299.8,223.6 307.3,221.3 C314.9,218.9 322.4,216.3 330.0,213.8 C337.5,211.3 345.0,208.5 352.6,206.1 C360.1,203.7 367.7,201.1 375.2,199.2 C382.8,197.4 390.3,195.6 397.9,194.8 C405.4,194.1 416.7,194.7 420.5,194.7"/>
<path d="M262.0,234.0 C265.8,233.5 272.7,232.0 284.6,231.2 C296.6,230.4 318.1,229.8 333.7,229.1 C349.3,228.3 371.0,227.1 378.5,226.7"/>
<path d="M171.5,274.1 C175.3,272.6 186.7,267.4 194.4,264.9 C202.0,262.3 209.6,260.5 217.2,258.9 C224.8,257.3 232.5,256.2 240.1,255.3 C247.7,254.4 255.3,253.9 263.0,253.6 C270.6,253.2 278.2,253.2 285.8,253.2 C293.4,253.3 301.1,253.5 308.7,253.8 C316.3,254.1 323.9,254.6 331.5,255.0 C339.2,255.4 346.8,255.9 354.4,256.4 C362.0,256.8 369.7,257.3 377.3,257.8 C384.9,258.2 392.5,258.6 400.1,259.0 C407.8,259.3 419.2,259.7 423.0,259.9"/>
<path d="M168.5,340.5 C172.1,339.6 181.4,337.0 190.0,335.0 C198.6,333.0 211.2,330.6 220.0,328.5 C228.8,326.4 235.8,324.1 243.1,322.7 C250.3,321.3 260.1,320.7 263.5,320.3"/>
<path d="M200.0,335.8 C203.3,335.4 210.9,333.9 220.0,333.6 C229.1,333.4 245.8,334.6 254.7,334.3 C263.6,334.0 269.2,333.2 273.2,332.0 C277.2,330.8 277.8,327.7 278.7,326.8"/>
<path d="M225.8,357.4 C227.3,356.2 230.2,352.1 235.0,350.0 C239.8,347.9 246.4,345.8 254.7,344.7 C263.0,343.6 273.1,344.5 284.7,343.5 C296.2,342.5 308.1,341.2 324.0,338.9 C339.9,336.6 364.3,331.5 380.0,329.7 C395.7,327.9 411.7,328.5 418.0,328.3"/>
<path d="M254.7,344.7 C259.7,344.6 271.2,342.3 284.7,344.2 C298.2,346.1 319.7,352.6 335.6,356.2 C351.5,359.8 372.6,363.9 380.0,365.5"/>
<path d="M254.7,344.7 C260.5,347.8 277.8,356.6 289.4,363.2 C300.9,369.8 314.0,376.7 324.0,384.0 C334.0,391.3 342.8,399.3 349.5,407.1 C356.2,414.9 361.8,427.0 364.2,431.0"/>
<path d="M208.3,414.4 C210.2,413.6 210.3,412.9 220.0,409.4 C229.7,405.9 250.8,397.0 266.2,393.2 C281.6,389.4 293.0,388.1 312.5,386.3 C332.0,384.5 371.2,383.1 383.0,382.5"/>
<path d="M217.2,456.5 C218.4,457.6 219.3,461.1 224.6,463.2 C229.9,465.3 240.9,467.5 249.1,469.3 C257.3,471.1 265.5,472.1 273.7,474.2 C281.9,476.2 289.4,478.4 298.3,481.6 C307.2,484.8 322.2,491.4 327.0,493.4"/>
<path d="M172.5,509.3 C175.5,507.1 183.3,501.1 190.3,496.2 C197.3,491.3 204.8,483.9 214.6,480.0 C224.4,476.1 239.6,474.0 249.1,473.0 C258.6,472.0 265.2,471.9 271.3,474.2 C277.4,476.4 280.7,479.5 286.0,486.5 C291.3,493.5 297.1,505.8 303.2,516.0 C309.3,526.2 317.2,538.5 322.9,547.9 C328.6,557.3 333.3,566.5 337.6,572.5 C341.9,578.5 346.8,581.8 348.6,583.6"/>
<path d="M210.3,461.4 C211.0,462.2 213.5,462.9 214.7,466.0 C215.9,469.1 216.3,472.6 217.6,480.0 C218.9,487.4 221.3,500.2 222.7,510.3 C224.0,520.4 225.4,532.3 225.7,540.7 C226.0,549.1 225.5,554.2 224.7,560.9 C223.9,567.6 221.9,574.4 220.7,581.1 C219.5,587.9 217.8,594.8 217.6,601.4 C217.4,608.0 219.2,617.7 219.5,621.0"/>
<path d="M173.1,518.8 C176.0,516.7 184.1,509.4 190.3,506.3 C196.6,503.2 205.5,500.5 210.6,500.2 C215.7,499.9 218.3,500.9 220.7,504.3 C223.0,507.7 224.0,512.8 224.7,520.5 C225.4,528.2 227.0,543.4 224.7,550.8 C222.3,558.2 216.3,560.0 210.6,565.0 C204.9,570.0 196.0,576.4 190.3,581.1 C184.6,585.8 179.3,588.8 176.2,593.3 C173.1,597.8 172.3,605.5 171.5,608.0"/>
<path d="M469.2,98.6 L464.9,96.0 L468.2,92.2"/>
<path d="M445.4,130.1 L441.0,127.6 L444.2,123.7"/>
<path d="M453.9,148.9 L450.0,145.8 L453.7,142.5"/>
<path d="M424.3,197.9 L420.5,194.7 L424.3,191.5"/>
<path d="M382.5,229.7 L378.5,226.7 L382.2,223.3"/>
<path d="M426.7,263.3 L423.0,259.9 L427.0,256.8"/>
<path d="M267.7,323.0 L263.5,320.3 L266.9,316.7"/>
<path d="M283.7,326.5 L278.7,326.8 L279.3,321.8"/>
<path d="M421.9,331.4 L418.0,328.3 L421.7,324.9"/>
<path d="M383.1,369.4 L380.0,365.5 L384.4,363.1"/>
<path d="M363.5,435.9 L364.2,431.0 L368.9,432.6"/>
<path d="M387.0,385.5 L383.0,382.5 L386.7,379.1"/>
<path d="M329.3,497.8 L327.0,493.4 L331.8,491.9"/>
<path d="M349.0,588.6 L348.6,583.6 L353.6,584.1"/>
<path d="M216.7,625.1 L219.5,621.0 L223.1,624.5"/>
<path d="M167.3,610.7 L171.5,608.0 L173.4,612.6"/>
</g>
<g fill="none" stroke="#17110c" stroke-width="1.7" stroke-linecap="round">
<path d="M118.6,385.4 C127.2,385.4 159.8,385.6 170.0,385.4 C180.2,385.2 176.5,385.0 180.0,384.0 C183.5,383.0 186.8,381.7 191.0,379.5 C195.2,377.3 200.2,373.5 205.0,371.0 C209.8,368.5 215.2,364.8 220.0,364.3 C224.8,363.8 229.3,365.3 233.9,367.8 C238.5,370.3 242.3,374.4 247.7,379.4 C253.1,384.4 260.0,391.3 266.2,397.9 C272.4,404.4 279.3,411.8 284.7,418.7 C290.1,425.6 294.7,434.3 298.6,439.5 C302.5,444.7 304.1,445.9 308.1,449.7 C312.2,453.4 318.6,458.6 322.9,462.0 C327.2,465.4 332.1,468.7 334.0,470.0"/>
</g>
<g fill="#e8101a">
<circle cx="171.5" cy="233.6" r="2.9"/><circle cx="171.8" cy="243" r="2.9"/><circle cx="171.5" cy="255.4" r="2.9"/><circle cx="171.5" cy="274.1" r="2.9"/>
<circle cx="168.5" cy="340.5" r="3"/>
<circle cx="225.8" cy="357.4" r="3"/><circle cx="208.3" cy="414.4" r="3"/><circle cx="217.2" cy="456.5" r="3"/><circle cx="210.3" cy="461.4" r="3"/>
<circle cx="172.7" cy="509.3" r="3"/><circle cx="173.2" cy="519" r="3"/>
</g>
<!-- TEXT -->
<text x="64.3" y="43.2" font-size="27.6" textLength="241.7" lengthAdjust="spacingAndGlyphs">Sympathetic System</text>
<g font-size="16.4">
<text x="512" y="94.5" textLength="95.5" lengthAdjust="spacingAndGlyphs">Dilates pupils</text>
<text x="512" y="135.9" textLength="124.9" lengthAdjust="spacingAndGlyphs">Inhibits salivation</text>
<text x="512" y="224" textLength="111.7" lengthAdjust="spacingAndGlyphs">Relaxes bronchi</text>
<text x="512" y="271.7" textLength="155.4" lengthAdjust="spacingAndGlyphs">Accelerates heartbeat</text>
<text x="511.6" y="348.8" textLength="127.8" lengthAdjust="spacingAndGlyphs">Inhibits peristalsis</text>
<text x="511.6" y="369.4" textLength="96.6" lengthAdjust="spacingAndGlyphs">and secretion</text>
<text x="467.8" y="422.9" textLength="134.8" lengthAdjust="spacingAndGlyphs">Stimulates glucose</text>
<text x="467.8" y="442.9" textLength="165.2" lengthAdjust="spacingAndGlyphs">production and release</text>
<text x="380.4" y="501.7" textLength="164.6" lengthAdjust="spacingAndGlyphs">Secretion of adrenaline</text>
<text x="380.4" y="521.8" textLength="131.1" lengthAdjust="spacingAndGlyphs">and noradrenaline</text>
<text x="397.7" y="591.9" textLength="199.5" lengthAdjust="spacingAndGlyphs">Inhibits bladder contraction</text>
<text x="278.2" y="656.4" textLength="131.6" lengthAdjust="spacingAndGlyphs">Stimulates orgasm</text>
<text x="51.3" y="294.7" textLength="15" lengthAdjust="spacingAndGlyphs">T1</text>
<text x="43.7" y="444.9" textLength="25.3" lengthAdjust="spacingAndGlyphs">T12</text>
</g>
<line x1="72.3" y1="289.6" x2="108" y2="289.6" stroke="#6a6a6a" stroke-width="1.1"/>
<line x1="73.4" y1="440.2" x2="108" y2="440.2" stroke="#6a6a6a" stroke-width="1.1"/>
</svg>
</body></html>
